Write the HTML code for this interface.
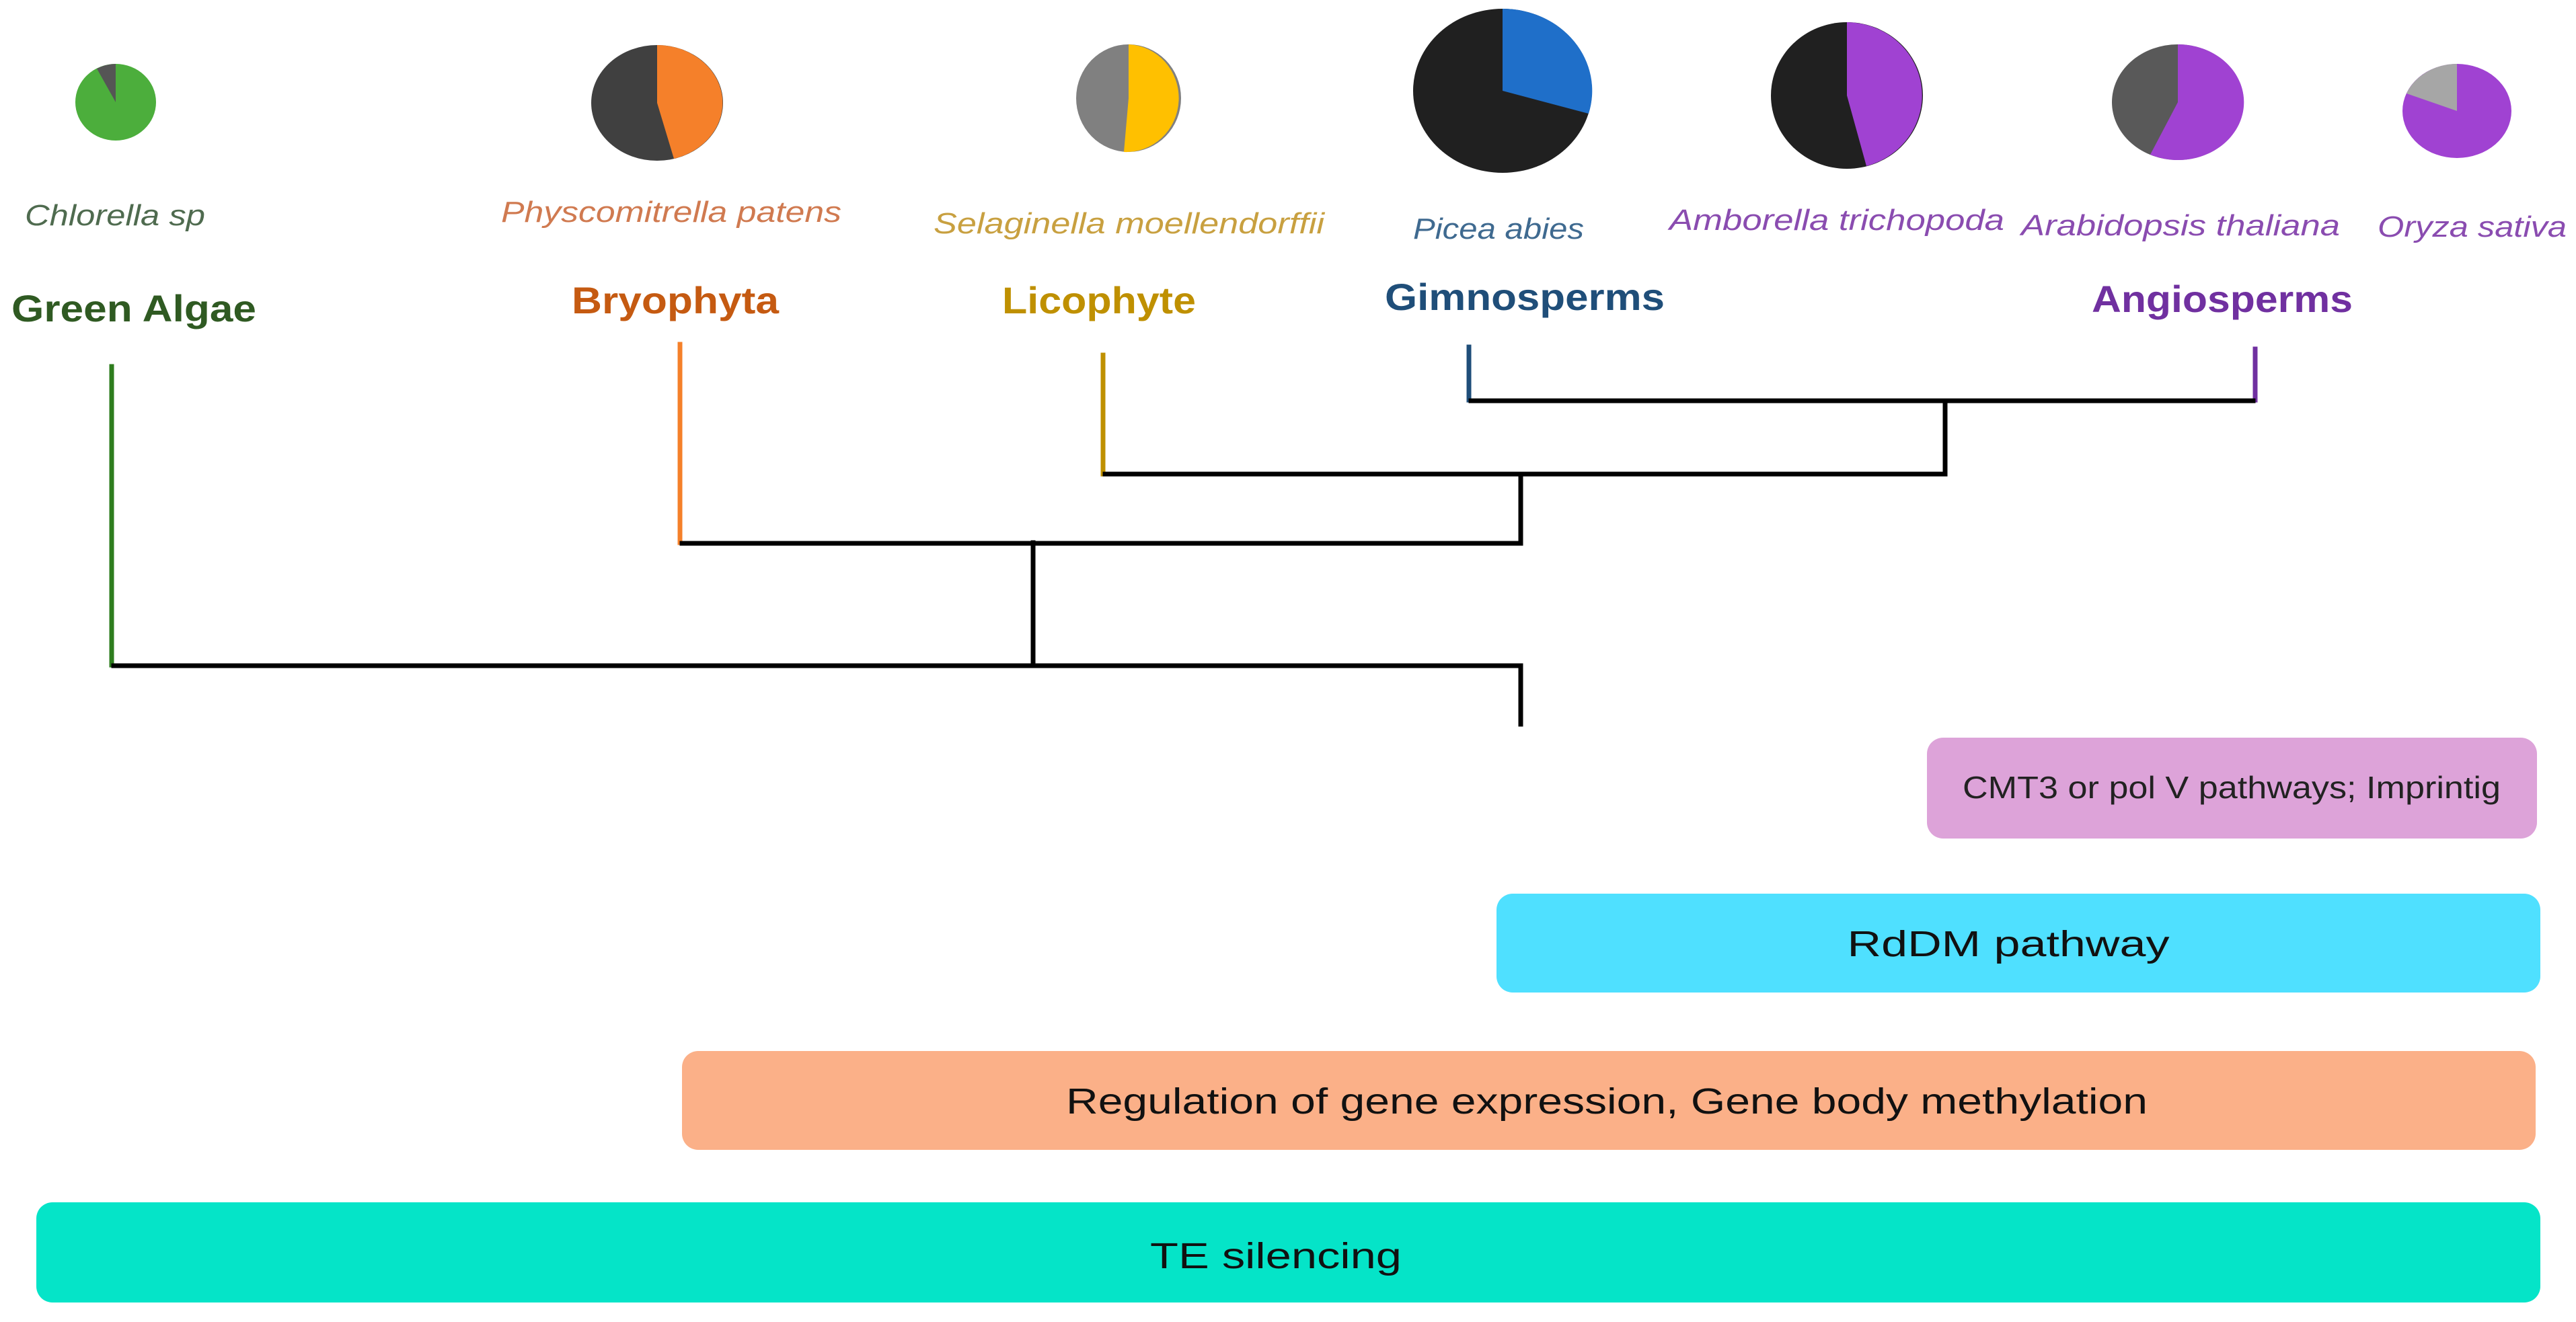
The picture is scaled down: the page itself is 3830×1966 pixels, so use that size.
<!DOCTYPE html>
<html><head><meta charset="utf-8"><style>
html,body{margin:0;padding:0;background:#fff;}
svg{display:block;}
text{font-family:"Liberation Sans",sans-serif;}
</style></head><body>
<svg width="3830" height="1966" viewBox="0 0 3830 1966" xmlns="http://www.w3.org/2000/svg">
<rect width="3830" height="1966" fill="#fff"/>
<!-- pies -->
<ellipse cx="172" cy="152" rx="60" ry="57" fill="#4cae3c"/>
<path d="M172,152 L144,102 A60,57 0 0 1 172,95 Z" fill="#555"/>
<ellipse cx="977" cy="153" rx="98" ry="86" fill="#404040"/>
<path d="M977,153 L977,67 A98,86 0 0 1 1002,236 Z" fill="#f5802a"/>
<ellipse cx="1678" cy="146" rx="78" ry="80" fill="#808080"/>
<path d="M1678,146 L1678,66 A78,80 0 1 1 1671,226 Z" fill="#ffc000"/>
<ellipse cx="2234" cy="135" rx="133" ry="122" fill="#202020"/>
<path d="M2234,135 L2234,13 A133,122 0 0 1 2362,169 Z" fill="#1f6fc9"/>
<ellipse cx="2746" cy="142" rx="113" ry="109" fill="#202020"/>
<path d="M2746,142 L2746,33 A113,109 0 0 1 2775,247 Z" fill="#a042d2"/>
<ellipse cx="3238" cy="152" rx="98" ry="86" fill="#595959"/>
<path d="M3238,152 L3238,66 A98,86 0 1 1 3197,230 Z" fill="#a042d2"/>
<ellipse cx="3653" cy="165" rx="81" ry="70" fill="#a042d2"/>
<path d="M3653,165 L3578,139 A81,70 0 0 1 3653,95 Z" fill="#a6a6a6"/>
<!-- species names -->
<g font-style="italic" font-size="44">
<text x="37" y="335" textLength="268" lengthAdjust="spacingAndGlyphs" fill="#4f6b4f">Chlorella sp</text>
<text x="745" y="330" textLength="506" lengthAdjust="spacingAndGlyphs" fill="#d07a50">Physcomitrella patens</text>
<text x="1388" y="347" textLength="581" lengthAdjust="spacingAndGlyphs" fill="#c8a040">Selaginella moellendorffii</text>
<text x="2101" y="355" textLength="254" lengthAdjust="spacingAndGlyphs" fill="#3f6a90">Picea abies</text>
<text x="2482" y="342" textLength="498" lengthAdjust="spacingAndGlyphs" fill="#8a4cb0">Amborella trichopoda</text>
<text x="3005" y="350" textLength="474" lengthAdjust="spacingAndGlyphs" fill="#8a4cb0">Arabidopsis thaliana</text>
<text x="3535" y="352" textLength="281" lengthAdjust="spacingAndGlyphs" fill="#8a4cb0">Oryza sativa</text>
</g>
<!-- group names -->
<g font-weight="bold" font-size="56">
<text x="17" y="478" textLength="364" lengthAdjust="spacingAndGlyphs" fill="#2f5a22">Green Algae</text>
<text x="850" y="466" textLength="308" lengthAdjust="spacingAndGlyphs" fill="#c55a11">Bryophyta</text>
<text x="1490" y="466" textLength="288" lengthAdjust="spacingAndGlyphs" fill="#bf9000">Licophyte</text>
<text x="2059" y="461" textLength="416" lengthAdjust="spacingAndGlyphs" fill="#1f4e79">Gimnosperms</text>
<text x="3110" y="464" textLength="388" lengthAdjust="spacingAndGlyphs" fill="#7030a0">Angiosperms</text>
</g>
<!-- tree -->
<g stroke-width="7" fill="none" stroke-linecap="square">
<line x1="166" y1="545" x2="166" y2="989" stroke="#2e7d1e"/>
<line x1="1011" y1="512" x2="1011" y2="807" stroke="#f5802a"/>
<line x1="1640" y1="528" x2="1640" y2="705" stroke="#bf9000"/>
<line x1="2184" y1="516" x2="2184" y2="595" stroke="#1f4e79"/>
<line x1="3353" y1="519" x2="3353" y2="595" stroke="#7030a0"/>
<g stroke="#000">
<line x1="169" y1="990" x2="2261" y2="990"/>
<line x1="2261" y1="990" x2="2261" y2="1077"/>
<line x1="1536" y1="807" x2="1536" y2="990"/>
<line x1="1014" y1="808" x2="2261" y2="808"/>
<line x1="2261" y1="705" x2="2261" y2="808"/>
<line x1="1643" y1="705" x2="2892" y2="705"/>
<line x1="2892" y1="598" x2="2892" y2="705"/>
<line x1="2187" y1="596" x2="3350" y2="596"/>
</g>
</g>
<!-- boxes -->
<rect x="2865" y="1097" width="907" height="150" rx="24" fill="#dda3d9"/>
<text x="3318" y="1187" font-size="46" text-anchor="middle" textLength="800" lengthAdjust="spacingAndGlyphs" fill="#222">CMT3 or pol V pathways; Imprintig</text>
<rect x="2225" y="1329" width="1552" height="147" rx="24" fill="#4fe0ff"/>
<text x="2986" y="1422" font-size="54" text-anchor="middle" textLength="479" lengthAdjust="spacingAndGlyphs" fill="#111">RdDM pathway</text>
<rect x="1014" y="1563" width="2756" height="147" rx="24" fill="#fbb088"/>
<text x="2389" y="1656" font-size="54" text-anchor="middle" textLength="1608" lengthAdjust="spacingAndGlyphs" fill="#111">Regulation of gene expression, Gene body methylation</text>
<rect x="54" y="1788" width="3723" height="149" rx="24" fill="#05e4c8"/>
<text x="1897" y="1886" font-size="54" text-anchor="middle" textLength="374" lengthAdjust="spacingAndGlyphs" fill="#111">TE silencing</text>
</svg>
</body></html>
